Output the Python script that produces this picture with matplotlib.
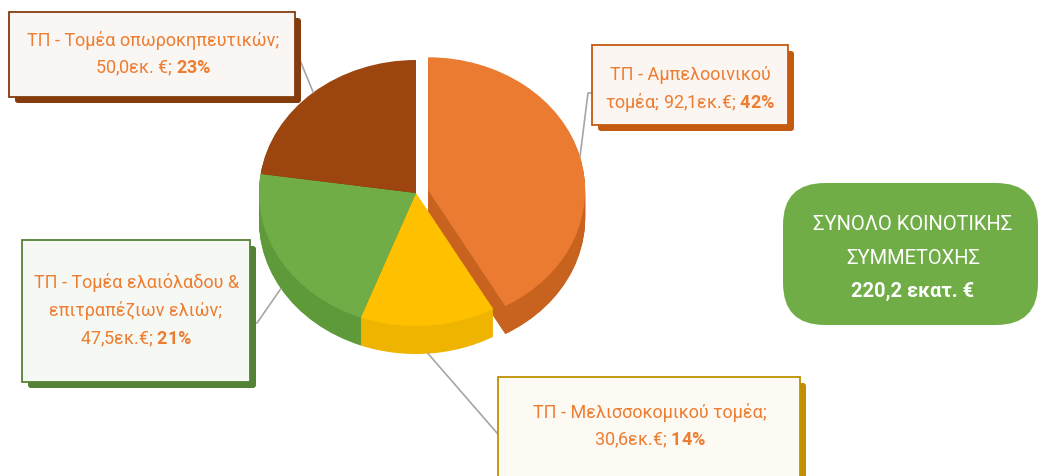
import matplotlib
matplotlib.use("Agg")
import matplotlib.pyplot as plt
from matplotlib.patches import Rectangle, FancyBboxPatch
import numpy as np

# ---------------- data ----------------
categories = ["ΤΠ - Αμπελοοινικού τομέα", "ΤΠ - Μελισσοκομικού τομέα",
              "ΤΠ - Τομέα ελαιόλαδου & επιτραπέζιων ελιών", "ΤΠ - Τομέα οπωροκηπευτικών"]
values = [92.1, 30.6, 47.5, 50.0]
value_labels = ["92,1εκ.€", "30,6εκ.€", "47,5εκ.€", "50,0εκ. €"]
pct_labels = ["42%", "14%", "21%", "23%"]
total_lines = ["ΣΥΝΟΛΟ ΚΟΙΝΟΤΙΚΗΣ", "ΣΥΜΜΕΤΟΧΗΣ"]
total_value = "220,2 εκατ. €"

# ---------------- style / layout ----------------
top_colors = ["#EA7B31", "#FFC000", "#70AD47", "#9C450E"]
side_colors = ["#C8621F", "#EFB400", "#5F9A3A", "#7F380B"]
shadow_colors = ["#C55A11", "#BF9000", "#548235", "#843C0C"]
face_colors = ["#FCF6F2", "#FDFAF3", "#F6F8F4", "#FAF6F3"]
text_color = "#ED7D31"
FONT = "Roboto"
FS = 13

W, H = 1042, 476
CX, CY, RX, RY, DEPTH = 416, 193, 157, 133, 28
EXPLODE = [0.08, 0, 0, 0]

boxes = [
    dict(rect=(592, 45, 196, 80), cx=690, ys=[75, 103], lines=["ΤΠ - Αμπελοοινικού", "τομέα; {v}; {p}"],
         elbow=[(593, 93), (588, 93)]),
    dict(rect=(498, 377, 302, 110), cx=650, ys=[413, 440], lines=["ΤΠ - Μελισσοκομικού τομέα;", "{v}; {p}"],
         elbow=[(497, 433)]),
    dict(rect=(22, 240, 228, 142), cx=136, ys=[283, 311, 339],
         lines=["ΤΠ - Τομέα ελαιόλαδου &", "επιτραπέζιων ελιών;", "{v}; {p}"],
         elbow=[(252, 323), (257, 323)]),
    dict(rect=(9, 12, 286, 85), cx=153, ys=[40, 68], lines=["ΤΠ - Τομέα οπωροκηπευτικών;", "{v}; {p}"],
         elbow=[(297, 53)]),
]

plt.rcParams['mathtext.fontset'] = 'custom'
plt.rcParams['mathtext.rm'] = FONT
plt.rcParams['mathtext.bf'] = FONT + ':bold'

fig = plt.figure(figsize=(W / 100, H / 100), dpi=100)
fig.patch.set_facecolor("white")

# ---------------- pie (3D look by stacked layers) ----------------
s = RY / RX
pax = fig.add_axes([0, 0, 1, 1])
explode_abs = [e * RX for e in EXPLODE]
for d in range(DEPTH, -1, -1):
    cols = top_colors if d == 0 else side_colors
    pax.pie(values, colors=cols, startangle=90, counterclock=False,
            explode=explode_abs, radius=RX, center=(CX, (H - CY - d) / s),
            wedgeprops=dict(linewidth=0), frame=True)
pax.set_xlim(0, W)
pax.set_ylim(0, H / s)
pax.set_aspect('auto')
pax.axis('off')

# ---------------- annotations ----------------
ax = fig.add_axes([0, 0, 1, 1])
ax.set_xlim(0, W)
ax.set_ylim(H, 0)
ax.axis('off')
ax.patch.set_alpha(0)

fracs = np.array(values) / np.sum(values)
starts = np.concatenate([[0], np.cumsum(fracs)[:-1]])
for i, b in enumerate(boxes):
    theta = np.deg2rad(90 - 360 * (starts[i] + fracs[i] / 2))
    ax_x = CX + RX * np.cos(theta) + explode_abs[i] * np.cos(theta)
    ax_y = CY - RY * np.sin(theta) - explode_abs[i] * np.sin(theta) * s
    if np.sin(theta) < 0:
        ax_y += DEPTH
    pts = [(ax_x, ax_y)] + b['elbow'][::-1]
    xs, ys = zip(*pts)
    ax.plot(xs, ys, color="#A6A6A6", lw=1.2, zorder=1)

    x, y, w, h = b['rect']
    ax.add_patch(FancyBboxPatch((x + 6, y + 6), w, h, boxstyle="round,pad=0,rounding_size=3",
                                fc=shadow_colors[i], ec='none', zorder=2))
    ax.add_patch(Rectangle((x, y), w, h, fc=face_colors[i], ec=shadow_colors[i], lw=1.3, zorder=3))
    pct = "$\\mathbf{" + pct_labels[i].replace("%", "\\%") + "}$"
    for line, ly in zip(b['lines'], b['ys']):
        txt = line.format(v=value_labels[i], p=pct)
        ax.text(b['cx'], ly, txt, ha='center', va='center', color=text_color,
                fontsize=FS, family=FONT, zorder=4)

# total box
ax.add_patch(FancyBboxPatch((783, 183), 255, 142, boxstyle="round,pad=0,rounding_size=42",
                            fc="#70AD47", ec='none', zorder=2))
for line, ly in zip(total_lines, [225, 258]):
    ax.text(913, ly, line, ha='center', va='center', color='white', fontsize=14.5, family=FONT, zorder=4)
ax.text(913, 291, total_value, ha='center', va='center', color='white', fontsize=14.5,
        family=FONT, fontweight='bold', zorder=4)

fig.savefig("out.png", dpi=100)
